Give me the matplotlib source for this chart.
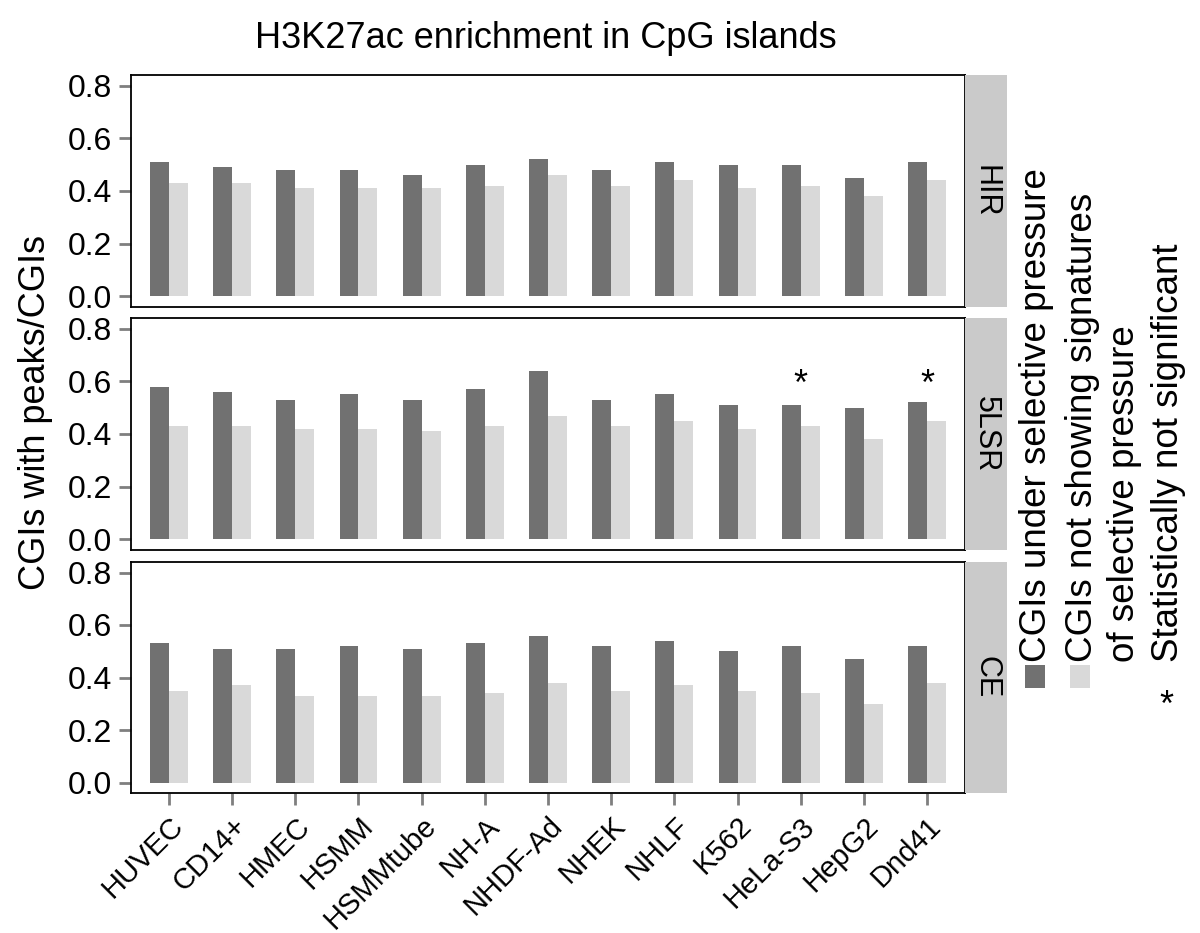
import matplotlib
matplotlib.use("Agg")
import matplotlib.pyplot as plt
from matplotlib.patches import Rectangle
import numpy as np

plt.rcParams['font.family'] = ['Liberation Sans', 'DejaVu Sans']

categories = ["HUVEC", "CD14+", "HMEC", "HSMM", "HSMMtube", "NH-A", "NHDF-Ad",
              "NHEK", "NHLF", "K562", "HeLa-S3", "HepG2", "Dnd41"]
regions = ["HIR", "5LSR", "CE"]

selective = {
    "HIR":  [0.51, 0.49, 0.48, 0.48, 0.46, 0.50, 0.52, 0.48, 0.51, 0.50, 0.50, 0.45, 0.51],
    "5LSR": [0.58, 0.56, 0.53, 0.55, 0.53, 0.57, 0.64, 0.53, 0.55, 0.51, 0.51, 0.50, 0.52],
    "CE":   [0.53, 0.51, 0.51, 0.52, 0.51, 0.53, 0.56, 0.52, 0.54, 0.50, 0.52, 0.47, 0.52],
}
non_selective = {
    "HIR":  [0.43, 0.43, 0.41, 0.41, 0.41, 0.42, 0.46, 0.42, 0.44, 0.41, 0.42, 0.38, 0.44],
    "5LSR": [0.43, 0.43, 0.42, 0.42, 0.41, 0.43, 0.47, 0.43, 0.45, 0.42, 0.43, 0.38, 0.45],
    "CE":   [0.35, 0.37, 0.33, 0.33, 0.33, 0.34, 0.38, 0.35, 0.37, 0.35, 0.34, 0.30, 0.38],
}
# (region, category, y position of the star)
not_significant = [("5LSR", "HeLa-S3", 0.585), ("5LSR", "Dnd41", 0.585)]

yticks = [0.0, 0.2, 0.4, 0.6, 0.8]

dark = "#717171"
light = "#D9D9D9"
strip_col = "#CACACA"
tick_col = "#7F7F7F"

W, H = 1200, 933
fig = plt.figure(figsize=(W / 100, H / 100), dpi=100)

def fx(px):
    return px / W

def fy(py):
    return 1 - py / H

panel_px = [(75, 307), (318, 550), (562, 793)]
left_px, right_px, strip_right = 131, 965, 1007

x = np.arange(len(categories))
bw = 0.3
for i, reg in enumerate(regions):
    top, bot = panel_px[i]
    ax = fig.add_axes([fx(left_px), fy(bot), fx(right_px - left_px), (bot - top) / H])
    ax.bar(x - bw / 2, selective[reg], width=bw, color=dark, edgecolor='none')
    ax.bar(x + bw / 2, non_selective[reg], width=bw, color=light, edgecolor='none')
    ax.set_xlim(-0.6, len(categories) - 0.4)
    ax.set_ylim(-0.04, 0.84)
    ax.set_yticks(yticks)
    ax.set_yticklabels([f"{t:.1f}" for t in yticks], fontsize=23)
    ax.tick_params(axis='y', length=8.5, width=2, color=tick_col, pad=5)
    for s in ax.spines.values():
        s.set_linewidth(1.3)
        s.set_color('black')
    if i == len(regions) - 1:
        ax.set_xticks(x)
        ax.set_xticklabels(categories, rotation=45, ha='right', rotation_mode='anchor',
                           fontsize=21)
        ax.tick_params(axis='x', length=8.5, width=2, color=tick_col, pad=5)
    else:
        ax.set_xticks([])
    for r, c, yv in not_significant:
        if r == reg:
            ax.text(categories.index(c), yv, "*", ha='center', va='center', fontsize=26)
    # strip
    sax = fig.add_axes([fx(right_px), fy(bot), fx(strip_right - right_px), (bot - top) / H])
    sax.set_facecolor(strip_col)
    sax.set_xticks([])
    sax.set_yticks([])
    for s in sax.spines.values():
        s.set_visible(False)
    sax.text(0.5, 0.5, reg, rotation=-90, ha='center', va='center', fontsize=22,
             transform=sax.transAxes)

fig.text(fx(546), fy(38), "H3K27ac enrichment in CpG islands", ha='center', va='center',
         fontsize=26)
fig.text(fx(36), fy(413), "CGIs with peaks/CGIs", rotation=90, ha='center', va='center',
         fontsize=26)

# legend
fig.patches.append(Rectangle((fx(1025), fy(688)), fx(20), 23 / H, transform=fig.transFigure,
                             facecolor=dark, edgecolor='none'))
fig.patches.append(Rectangle((fx(1070), fy(688)), fx(20), 23 / H, transform=fig.transFigure,
                             facecolor=light, edgecolor='none'))
fig.text(fx(1036), fy(662), "CGIs under selective pressure", rotation=90, ha='center',
         va='bottom', fontsize=26.5)
fig.text(fx(1082), fy(662), "CGIs not showing signatures", rotation=90, ha='center',
         va='bottom', fontsize=26.5)
fig.text(fx(1125), fy(662), "of selective pressure", rotation=90, ha='center',
         va='bottom', fontsize=26.5)
fig.text(fx(1166), fy(706), "*", ha='center', va='center', fontsize=26)
fig.text(fx(1168), fy(662), "Statistically not significant", rotation=90, ha='center',
         va='bottom', fontsize=26.5)

fig.savefig("out.png", dpi=100)
